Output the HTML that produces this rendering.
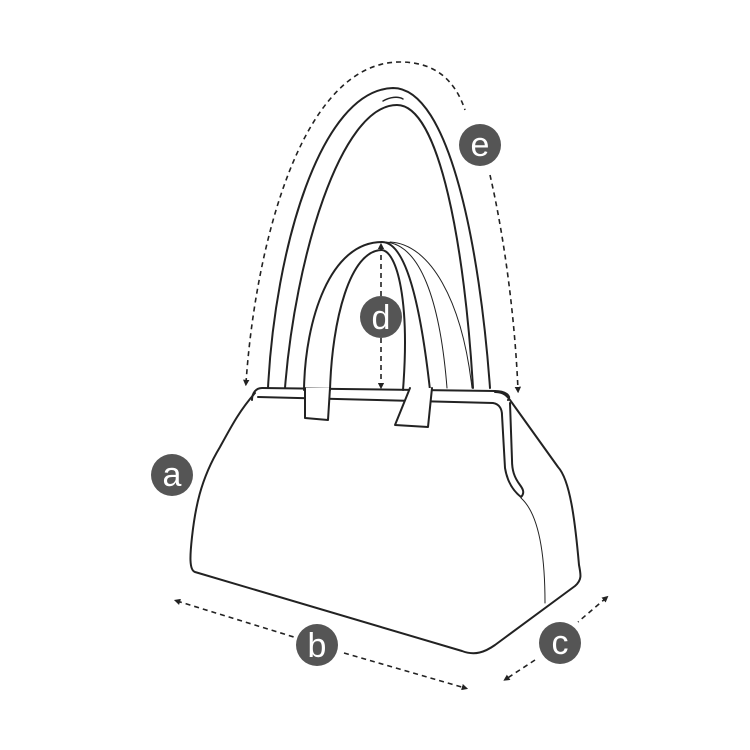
<!DOCTYPE html>
<html><head><style>html,body{margin:0;background:#fff}svg{display:block}</style></head><body>
<svg width="750" height="750" viewBox="0 0 750 750" xmlns="http://www.w3.org/2000/svg">
<defs>
<marker id="ar" viewBox="0 0 10 10" refX="5" refY="5" markerWidth="4" markerHeight="4" orient="auto-start-reverse"><path d="M0,0L10,5L0,10z" fill="#222"/></marker>
</defs>
<g fill="none" stroke="#222" stroke-width="2" stroke-linejoin="round" stroke-linecap="round">
<!-- long handle -->
<path d="M268,388 C275,250 320,90 393,88 C450,88 480,250 490,388"/>
<path d="M285,388 C295,260 340,105 397,105 C440,105 465,250 473,388"/>
<path d="M383,101 C390,97 398,96 403,99" stroke-width="1.5"/>
<!-- short handle -->
<path d="M304,390 C305,320 330,242 382,242 C405,242 420,300 430,390"/>
<path d="M330,390 C332,320 350,250 382,250 C397,252 410,300 403,390"/>
<path d="M385,242 C420,244 440,300 447,388" stroke-width="1"/>
<path d="M390,242 C430,244 462,300 472,388" stroke-width="1"/>
<!-- body -->
<path d="M255,393 C240,410 232,425 220,447 C200,480 195,510 192,537 C190,555 189,570 195,572 L462,651 C475,656 485,652 495,645 L575,586 C582,580 581,575 579,565 C575,520 570,480 558,467 L510,400 C505,393 500,392 495,392"/>
<path d="M252,400 C252,393 256,388 262,388 L495,391 C505,391 512,396 508,400"/>
<path d="M258,397 L493,403 C500,404 502,410 502,415 L505,468 C507,480 512,490 521,497 C525,493 523,489 520,485 C514,477 512,470 512,460 L510,403"/>
<path d="M521,498 C540,515 545,560 545,603" stroke-width="1"/>
<!-- strap fronts -->
<path d="M305,388 L305,418 L328,420 L330,388" fill="#fff"/>
<path d="M410,388 L395,425 L428,427 L432,388" fill="#fff"/>
</g>
<g fill="none" stroke="#222" stroke-width="1.6" stroke-dasharray="5,4">
<path d="M246,383 C255,250 300,62 400,62 C435,62 455,80 465,110" marker-start="url(#ar)"/>
<path d="M490,175 C505,240 515,320 518,390" marker-end="url(#ar)"/>
<path d="M381,246 L381,298" marker-start="url(#ar)"/>
<path d="M381,338 L381,386" marker-end="url(#ar)"/>
<path d="M177,601 L297,638" marker-start="url(#ar)"/>
<path d="M344,653 L465,688" marker-end="url(#ar)"/>
<path d="M606,598 L578,622" marker-start="url(#ar)"/>
<path d="M535,660 L506,679" marker-end="url(#ar)"/>
</g>
<g font-family="Liberation Sans, sans-serif" font-size="34" fill="#fff" text-anchor="middle">
<circle cx="172" cy="475" r="21" fill="#555"/><text x="172" y="486">a</text>
<circle cx="317" cy="645" r="21" fill="#555"/><text x="317" y="657">b</text>
<circle cx="560" cy="643" r="21" fill="#555"/><text x="560" y="654">c</text>
<circle cx="381" cy="317" r="21" fill="#555"/><text x="381" y="329">d</text>
<circle cx="480" cy="145" r="21" fill="#555"/><text x="480" y="156">e</text>
</g>
</svg>
</body></html>
